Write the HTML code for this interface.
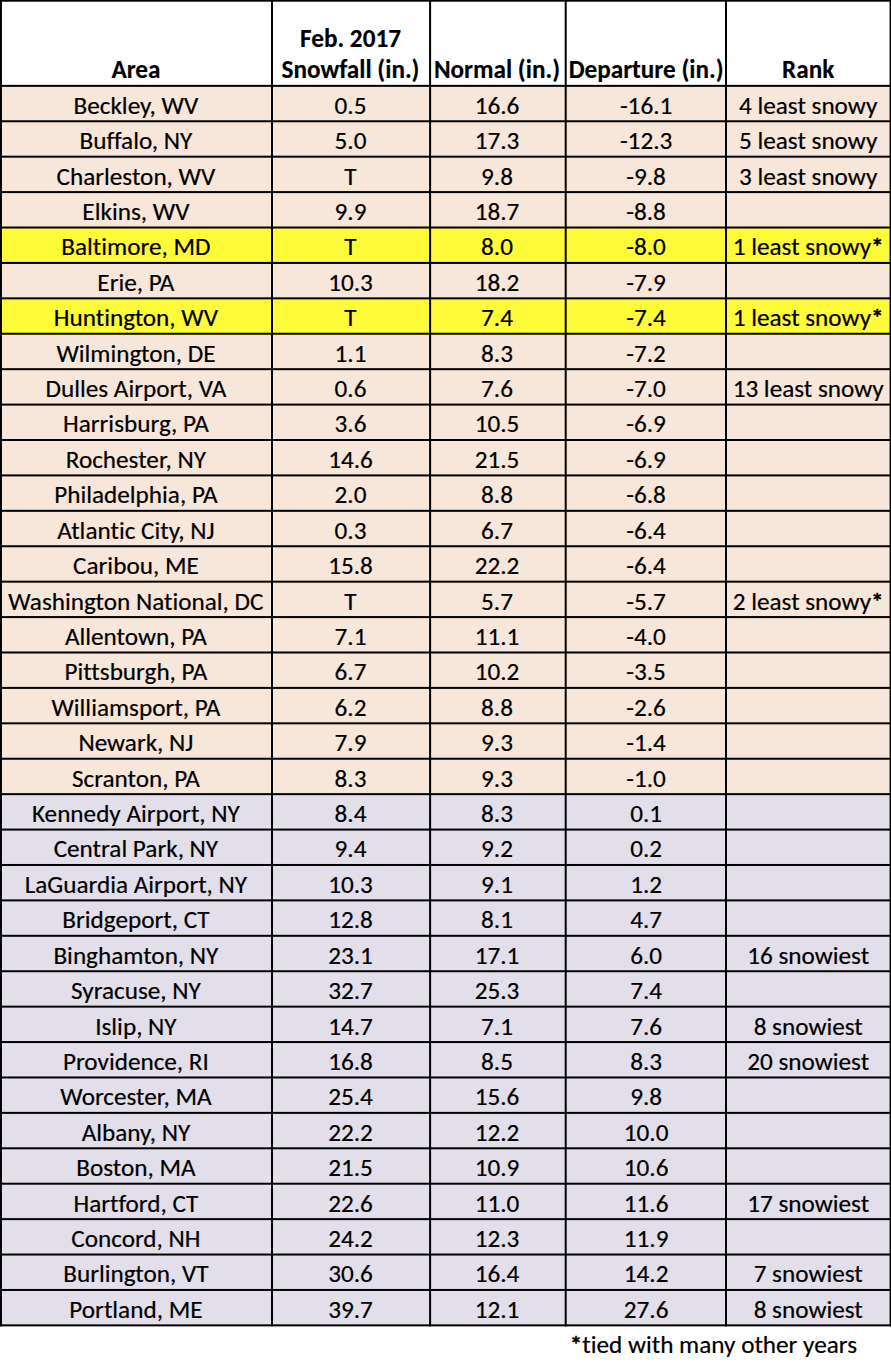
<!DOCTYPE html>
<html><head><meta charset="utf-8"><title>February 2017 Snowfall</title>
<style>
html,body{margin:0;padding:0;background:#fff;}
body{width:891px;height:1362px;position:relative;overflow:hidden;font-family:Carlito,"Liberation Sans",sans-serif;color:#000;}
.grid{position:absolute;left:0;top:0;}
.t{position:absolute;height:0;line-height:0;font-size:25.2px;text-align:center;white-space:nowrap;font-variant-ligatures:none;-webkit-text-stroke:0.2px #000;}
.t.b{font-weight:bold;-webkit-text-stroke:0.15px #000;}
.a{-webkit-text-stroke:0.7px #000;}
body.nc .t{font-size:22.8px;}
</style></head><body>
<svg class="grid" width="891" height="1362" viewBox="0 0 891 1362"><rect x="0" y="85.85" width="891" height="35.41" fill="#F7E6DA"/><rect x="0" y="121.26" width="891" height="35.42" fill="#F7E6DA"/><rect x="0" y="156.68" width="891" height="35.41" fill="#F7E6DA"/><rect x="0" y="192.09" width="891" height="35.41" fill="#F7E6DA"/><rect x="0" y="227.51" width="891" height="35.41" fill="#FEFB38"/><rect x="0" y="262.92" width="891" height="35.42" fill="#F7E6DA"/><rect x="0" y="298.34" width="891" height="35.41" fill="#FEFB38"/><rect x="0" y="333.75" width="891" height="35.41" fill="#F7E6DA"/><rect x="0" y="369.17" width="891" height="35.42" fill="#F7E6DA"/><rect x="0" y="404.59" width="891" height="35.41" fill="#F7E6DA"/><rect x="0" y="440.00" width="891" height="35.41" fill="#F7E6DA"/><rect x="0" y="475.41" width="891" height="35.42" fill="#F7E6DA"/><rect x="0" y="510.83" width="891" height="35.41" fill="#F7E6DA"/><rect x="0" y="546.25" width="891" height="35.41" fill="#F7E6DA"/><rect x="0" y="581.66" width="891" height="35.42" fill="#F7E6DA"/><rect x="0" y="617.08" width="891" height="35.41" fill="#F7E6DA"/><rect x="0" y="652.49" width="891" height="35.41" fill="#F7E6DA"/><rect x="0" y="687.90" width="891" height="35.42" fill="#F7E6DA"/><rect x="0" y="723.32" width="891" height="35.41" fill="#F7E6DA"/><rect x="0" y="758.74" width="891" height="35.41" fill="#F7E6DA"/><rect x="0" y="794.15" width="891" height="35.42" fill="#E2DEEA"/><rect x="0" y="829.57" width="891" height="35.41" fill="#E2DEEA"/><rect x="0" y="864.98" width="891" height="35.41" fill="#E2DEEA"/><rect x="0" y="900.39" width="891" height="35.42" fill="#E2DEEA"/><rect x="0" y="935.81" width="891" height="35.41" fill="#E2DEEA"/><rect x="0" y="971.23" width="891" height="35.41" fill="#E2DEEA"/><rect x="0" y="1006.64" width="891" height="35.41" fill="#E2DEEA"/><rect x="0" y="1042.05" width="891" height="35.42" fill="#E2DEEA"/><rect x="0" y="1077.47" width="891" height="35.41" fill="#E2DEEA"/><rect x="0" y="1112.88" width="891" height="35.41" fill="#E2DEEA"/><rect x="0" y="1148.30" width="891" height="35.41" fill="#E2DEEA"/><rect x="0" y="1183.71" width="891" height="35.41" fill="#E2DEEA"/><rect x="0" y="1219.13" width="891" height="35.41" fill="#E2DEEA"/><rect x="0" y="1254.54" width="891" height="35.41" fill="#E2DEEA"/><rect x="0" y="1289.96" width="891" height="35.41" fill="#E2DEEA"/><rect x="0" y="0" width="891" height="1.7"/><rect x="0" y="84.85" width="891" height="2.0"/><rect x="0" y="120.26" width="891" height="2.0"/><rect x="0" y="155.68" width="891" height="2.0"/><rect x="0" y="191.09" width="891" height="2.0"/><rect x="0" y="226.51" width="891" height="2.0"/><rect x="0" y="261.92" width="891" height="2.0"/><rect x="0" y="297.34" width="891" height="2.0"/><rect x="0" y="332.75" width="891" height="2.0"/><rect x="0" y="368.17" width="891" height="2.0"/><rect x="0" y="403.59" width="891" height="2.0"/><rect x="0" y="439.00" width="891" height="2.0"/><rect x="0" y="474.41" width="891" height="2.0"/><rect x="0" y="509.83" width="891" height="2.0"/><rect x="0" y="545.25" width="891" height="2.0"/><rect x="0" y="580.66" width="891" height="2.0"/><rect x="0" y="616.08" width="891" height="2.0"/><rect x="0" y="651.49" width="891" height="2.0"/><rect x="0" y="686.90" width="891" height="2.0"/><rect x="0" y="722.32" width="891" height="2.0"/><rect x="0" y="757.74" width="891" height="2.0"/><rect x="0" y="793.15" width="891" height="2.0"/><rect x="0" y="828.57" width="891" height="2.0"/><rect x="0" y="863.98" width="891" height="2.0"/><rect x="0" y="899.39" width="891" height="2.0"/><rect x="0" y="934.81" width="891" height="2.0"/><rect x="0" y="970.23" width="891" height="2.0"/><rect x="0" y="1005.64" width="891" height="2.0"/><rect x="0" y="1041.05" width="891" height="2.0"/><rect x="0" y="1076.47" width="891" height="2.0"/><rect x="0" y="1111.88" width="891" height="2.0"/><rect x="0" y="1147.30" width="891" height="2.0"/><rect x="0" y="1182.71" width="891" height="2.0"/><rect x="0" y="1218.13" width="891" height="2.0"/><rect x="0" y="1253.54" width="891" height="2.0"/><rect x="0" y="1288.96" width="891" height="2.0"/><rect x="0" y="1324.37" width="891" height="2.0"/><rect x="0" y="0" width="1.95" height="1326.37"/><rect x="271.00" y="0" width="2.0" height="1326.37"/><rect x="429.10" y="0" width="2.0" height="1326.37"/><rect x="564.70" y="0" width="2.0" height="1326.37"/><rect x="725.00" y="0" width="2.0" height="1326.37"/><rect x="889.6" y="0" width="1.4" height="1326.37"/></svg>
<div class="t" style="left:-4.1px;width:280.0px;top:105.7px">Beckley, WV</div>
<div class="t" style="left:210.5px;width:280.0px;top:105.7px">0.5</div>
<div class="t" style="left:357.0px;width:280.0px;top:105.7px">16.6</div>
<div class="t" style="left:506.1px;width:280.0px;top:105.7px">-16.1</div>
<div class="t" style="left:668.2px;width:280.0px;top:105.7px">4 least snowy</div>
<div class="t" style="left:-4.1px;width:280.0px;top:141.1px">Buffalo, NY</div>
<div class="t" style="left:210.5px;width:280.0px;top:141.1px">5.0</div>
<div class="t" style="left:357.0px;width:280.0px;top:141.1px">17.3</div>
<div class="t" style="left:506.1px;width:280.0px;top:141.1px">-12.3</div>
<div class="t" style="left:668.2px;width:280.0px;top:141.1px">5 least snowy</div>
<div class="t" style="left:-4.1px;width:280.0px;top:176.5px">Charleston, WV</div>
<div class="t" style="left:210.5px;width:280.0px;top:176.5px">T</div>
<div class="t" style="left:357.0px;width:280.0px;top:176.5px">9.8</div>
<div class="t" style="left:506.1px;width:280.0px;top:176.5px">-9.8</div>
<div class="t" style="left:668.2px;width:280.0px;top:176.5px">3 least snowy</div>
<div class="t" style="left:-4.1px;width:280.0px;top:211.9px">Elkins, WV</div>
<div class="t" style="left:210.5px;width:280.0px;top:211.9px">9.9</div>
<div class="t" style="left:357.0px;width:280.0px;top:211.9px">18.7</div>
<div class="t" style="left:506.1px;width:280.0px;top:211.9px">-8.8</div>
<div class="t" style="left:-4.1px;width:280.0px;top:247.3px">Baltimore, MD</div>
<div class="t" style="left:210.5px;width:280.0px;top:247.3px">T</div>
<div class="t" style="left:357.0px;width:280.0px;top:247.3px">8.0</div>
<div class="t" style="left:506.1px;width:280.0px;top:247.3px">-8.0</div>
<div class="t" style="left:668.2px;width:280.0px;top:247.3px">1 least snowy<span class="a">*</span></div>
<div class="t" style="left:-4.1px;width:280.0px;top:282.7px">Erie, PA</div>
<div class="t" style="left:210.5px;width:280.0px;top:282.7px">10.3</div>
<div class="t" style="left:357.0px;width:280.0px;top:282.7px">18.2</div>
<div class="t" style="left:506.1px;width:280.0px;top:282.7px">-7.9</div>
<div class="t" style="left:-4.1px;width:280.0px;top:318.2px">Huntington, WV</div>
<div class="t" style="left:210.5px;width:280.0px;top:318.2px">T</div>
<div class="t" style="left:357.0px;width:280.0px;top:318.2px">7.4</div>
<div class="t" style="left:506.1px;width:280.0px;top:318.2px">-7.4</div>
<div class="t" style="left:668.2px;width:280.0px;top:318.2px">1 least snowy<span class="a">*</span></div>
<div class="t" style="left:-4.1px;width:280.0px;top:353.6px">Wilmington, DE</div>
<div class="t" style="left:210.5px;width:280.0px;top:353.6px">1.1</div>
<div class="t" style="left:357.0px;width:280.0px;top:353.6px">8.3</div>
<div class="t" style="left:506.1px;width:280.0px;top:353.6px">-7.2</div>
<div class="t" style="left:-4.1px;width:280.0px;top:389.0px">Dulles Airport, VA</div>
<div class="t" style="left:210.5px;width:280.0px;top:389.0px">0.6</div>
<div class="t" style="left:357.0px;width:280.0px;top:389.0px">7.6</div>
<div class="t" style="left:506.1px;width:280.0px;top:389.0px">-7.0</div>
<div class="t" style="left:668.2px;width:280.0px;top:389.0px">13 least snowy</div>
<div class="t" style="left:-4.1px;width:280.0px;top:424.4px">Harrisburg, PA</div>
<div class="t" style="left:210.5px;width:280.0px;top:424.4px">3.6</div>
<div class="t" style="left:357.0px;width:280.0px;top:424.4px">10.5</div>
<div class="t" style="left:506.1px;width:280.0px;top:424.4px">-6.9</div>
<div class="t" style="left:-4.1px;width:280.0px;top:459.8px">Rochester, NY</div>
<div class="t" style="left:210.5px;width:280.0px;top:459.8px">14.6</div>
<div class="t" style="left:357.0px;width:280.0px;top:459.8px">21.5</div>
<div class="t" style="left:506.1px;width:280.0px;top:459.8px">-6.9</div>
<div class="t" style="left:-4.1px;width:280.0px;top:495.2px">Philadelphia, PA</div>
<div class="t" style="left:210.5px;width:280.0px;top:495.2px">2.0</div>
<div class="t" style="left:357.0px;width:280.0px;top:495.2px">8.8</div>
<div class="t" style="left:506.1px;width:280.0px;top:495.2px">-6.8</div>
<div class="t" style="left:-4.1px;width:280.0px;top:530.6px">Atlantic City, NJ</div>
<div class="t" style="left:210.5px;width:280.0px;top:530.6px">0.3</div>
<div class="t" style="left:357.0px;width:280.0px;top:530.6px">6.7</div>
<div class="t" style="left:506.1px;width:280.0px;top:530.6px">-6.4</div>
<div class="t" style="left:-4.1px;width:280.0px;top:566.1px">Caribou, ME</div>
<div class="t" style="left:210.5px;width:280.0px;top:566.1px">15.8</div>
<div class="t" style="left:357.0px;width:280.0px;top:566.1px">22.2</div>
<div class="t" style="left:506.1px;width:280.0px;top:566.1px">-6.4</div>
<div class="t" style="left:-4.1px;width:280.0px;top:601.5px">Washington National, DC</div>
<div class="t" style="left:210.5px;width:280.0px;top:601.5px">T</div>
<div class="t" style="left:357.0px;width:280.0px;top:601.5px">5.7</div>
<div class="t" style="left:506.1px;width:280.0px;top:601.5px">-5.7</div>
<div class="t" style="left:668.2px;width:280.0px;top:601.5px">2 least snowy<span class="a">*</span></div>
<div class="t" style="left:-4.1px;width:280.0px;top:636.9px">Allentown, PA</div>
<div class="t" style="left:210.5px;width:280.0px;top:636.9px">7.1</div>
<div class="t" style="left:357.0px;width:280.0px;top:636.9px">11.1</div>
<div class="t" style="left:506.1px;width:280.0px;top:636.9px">-4.0</div>
<div class="t" style="left:-4.1px;width:280.0px;top:672.3px">Pittsburgh, PA</div>
<div class="t" style="left:210.5px;width:280.0px;top:672.3px">6.7</div>
<div class="t" style="left:357.0px;width:280.0px;top:672.3px">10.2</div>
<div class="t" style="left:506.1px;width:280.0px;top:672.3px">-3.5</div>
<div class="t" style="left:-4.1px;width:280.0px;top:707.7px">Williamsport, PA</div>
<div class="t" style="left:210.5px;width:280.0px;top:707.7px">6.2</div>
<div class="t" style="left:357.0px;width:280.0px;top:707.7px">8.8</div>
<div class="t" style="left:506.1px;width:280.0px;top:707.7px">-2.6</div>
<div class="t" style="left:-4.1px;width:280.0px;top:743.1px">Newark, NJ</div>
<div class="t" style="left:210.5px;width:280.0px;top:743.1px">7.9</div>
<div class="t" style="left:357.0px;width:280.0px;top:743.1px">9.3</div>
<div class="t" style="left:506.1px;width:280.0px;top:743.1px">-1.4</div>
<div class="t" style="left:-4.1px;width:280.0px;top:778.5px">Scranton, PA</div>
<div class="t" style="left:210.5px;width:280.0px;top:778.5px">8.3</div>
<div class="t" style="left:357.0px;width:280.0px;top:778.5px">9.3</div>
<div class="t" style="left:506.1px;width:280.0px;top:778.5px">-1.0</div>
<div class="t" style="left:-4.1px;width:280.0px;top:814.0px">Kennedy Airport, NY</div>
<div class="t" style="left:210.5px;width:280.0px;top:814.0px">8.4</div>
<div class="t" style="left:357.0px;width:280.0px;top:814.0px">8.3</div>
<div class="t" style="left:506.1px;width:280.0px;top:814.0px">0.1</div>
<div class="t" style="left:-4.1px;width:280.0px;top:849.4px">Central Park, NY</div>
<div class="t" style="left:210.5px;width:280.0px;top:849.4px">9.4</div>
<div class="t" style="left:357.0px;width:280.0px;top:849.4px">9.2</div>
<div class="t" style="left:506.1px;width:280.0px;top:849.4px">0.2</div>
<div class="t" style="left:-4.1px;width:280.0px;top:884.8px">LaGuardia Airport, NY</div>
<div class="t" style="left:210.5px;width:280.0px;top:884.8px">10.3</div>
<div class="t" style="left:357.0px;width:280.0px;top:884.8px">9.1</div>
<div class="t" style="left:506.1px;width:280.0px;top:884.8px">1.2</div>
<div class="t" style="left:-4.1px;width:280.0px;top:920.2px">Bridgeport, CT</div>
<div class="t" style="left:210.5px;width:280.0px;top:920.2px">12.8</div>
<div class="t" style="left:357.0px;width:280.0px;top:920.2px">8.1</div>
<div class="t" style="left:506.1px;width:280.0px;top:920.2px">4.7</div>
<div class="t" style="left:-4.1px;width:280.0px;top:955.6px">Binghamton, NY</div>
<div class="t" style="left:210.5px;width:280.0px;top:955.6px">23.1</div>
<div class="t" style="left:357.0px;width:280.0px;top:955.6px">17.1</div>
<div class="t" style="left:506.1px;width:280.0px;top:955.6px">6.0</div>
<div class="t" style="left:668.2px;width:280.0px;top:955.6px">16 snowiest</div>
<div class="t" style="left:-4.1px;width:280.0px;top:991.0px">Syracuse, NY</div>
<div class="t" style="left:210.5px;width:280.0px;top:991.0px">32.7</div>
<div class="t" style="left:357.0px;width:280.0px;top:991.0px">25.3</div>
<div class="t" style="left:506.1px;width:280.0px;top:991.0px">7.4</div>
<div class="t" style="left:-4.1px;width:280.0px;top:1026.5px">Islip, NY</div>
<div class="t" style="left:210.5px;width:280.0px;top:1026.5px">14.7</div>
<div class="t" style="left:357.0px;width:280.0px;top:1026.5px">7.1</div>
<div class="t" style="left:506.1px;width:280.0px;top:1026.5px">7.6</div>
<div class="t" style="left:668.2px;width:280.0px;top:1026.5px">8 snowiest</div>
<div class="t" style="left:-4.1px;width:280.0px;top:1061.9px">Providence, RI</div>
<div class="t" style="left:210.5px;width:280.0px;top:1061.9px">16.8</div>
<div class="t" style="left:357.0px;width:280.0px;top:1061.9px">8.5</div>
<div class="t" style="left:506.1px;width:280.0px;top:1061.9px">8.3</div>
<div class="t" style="left:668.2px;width:280.0px;top:1061.9px">20 snowiest</div>
<div class="t" style="left:-4.1px;width:280.0px;top:1097.3px">Worcester, MA</div>
<div class="t" style="left:210.5px;width:280.0px;top:1097.3px">25.4</div>
<div class="t" style="left:357.0px;width:280.0px;top:1097.3px">15.6</div>
<div class="t" style="left:506.1px;width:280.0px;top:1097.3px">9.8</div>
<div class="t" style="left:-4.1px;width:280.0px;top:1132.7px">Albany, NY</div>
<div class="t" style="left:210.5px;width:280.0px;top:1132.7px">22.2</div>
<div class="t" style="left:357.0px;width:280.0px;top:1132.7px">12.2</div>
<div class="t" style="left:506.1px;width:280.0px;top:1132.7px">10.0</div>
<div class="t" style="left:-4.1px;width:280.0px;top:1168.1px">Boston, MA</div>
<div class="t" style="left:210.5px;width:280.0px;top:1168.1px">21.5</div>
<div class="t" style="left:357.0px;width:280.0px;top:1168.1px">10.9</div>
<div class="t" style="left:506.1px;width:280.0px;top:1168.1px">10.6</div>
<div class="t" style="left:-4.1px;width:280.0px;top:1203.5px">Hartford, CT</div>
<div class="t" style="left:210.5px;width:280.0px;top:1203.5px">22.6</div>
<div class="t" style="left:357.0px;width:280.0px;top:1203.5px">11.0</div>
<div class="t" style="left:506.1px;width:280.0px;top:1203.5px">11.6</div>
<div class="t" style="left:668.2px;width:280.0px;top:1203.5px">17 snowiest</div>
<div class="t" style="left:-4.1px;width:280.0px;top:1238.9px">Concord, NH</div>
<div class="t" style="left:210.5px;width:280.0px;top:1238.9px">24.2</div>
<div class="t" style="left:357.0px;width:280.0px;top:1238.9px">12.3</div>
<div class="t" style="left:506.1px;width:280.0px;top:1238.9px">11.9</div>
<div class="t" style="left:-4.1px;width:280.0px;top:1274.4px">Burlington, VT</div>
<div class="t" style="left:210.5px;width:280.0px;top:1274.4px">30.6</div>
<div class="t" style="left:357.0px;width:280.0px;top:1274.4px">16.4</div>
<div class="t" style="left:506.1px;width:280.0px;top:1274.4px">14.2</div>
<div class="t" style="left:668.2px;width:280.0px;top:1274.4px">7 snowiest</div>
<div class="t" style="left:-4.1px;width:280.0px;top:1309.8px">Portland, ME</div>
<div class="t" style="left:210.5px;width:280.0px;top:1309.8px">39.7</div>
<div class="t" style="left:357.0px;width:280.0px;top:1309.8px">12.1</div>
<div class="t" style="left:506.1px;width:280.0px;top:1309.8px">27.6</div>
<div class="t" style="left:668.2px;width:280.0px;top:1309.8px">8 snowiest</div>
<div class="t b" style="left:-4.1px;width:280.0px;top:70.0px">Area</div>
<div class="t b" style="left:210.5px;width:280.0px;top:39.0px">Feb. 2017</div>
<div class="t b" style="left:210.5px;width:280.0px;top:70.0px">Snowfall (in.)</div>
<div class="t b" style="left:357.0px;width:280.0px;top:70.0px">Normal (in.)</div>
<div class="t b" style="left:506.1px;width:280.0px;top:70.0px">Departure (in.)</div>
<div class="t b" style="left:668.2px;width:280.0px;top:70.0px">Rank</div>
<div class="t" style="left:0;width:857px;text-align:right;top:1344.5px"><span class="a">*</span>tied with many other years</div>
<script>(function(){var s=document.createElement('span');s.style.cssText='position:absolute;visibility:hidden;font-size:40px;white-space:nowrap;font-family:monospace';s.textContent='Washington National mmWWiil';document.body.appendChild(s);var a=s.offsetWidth;s.style.fontFamily='Carlito,monospace';var b=s.offsetWidth;document.body.removeChild(s);if(a===b)document.body.className='nc';})();</script>
</body></html>
